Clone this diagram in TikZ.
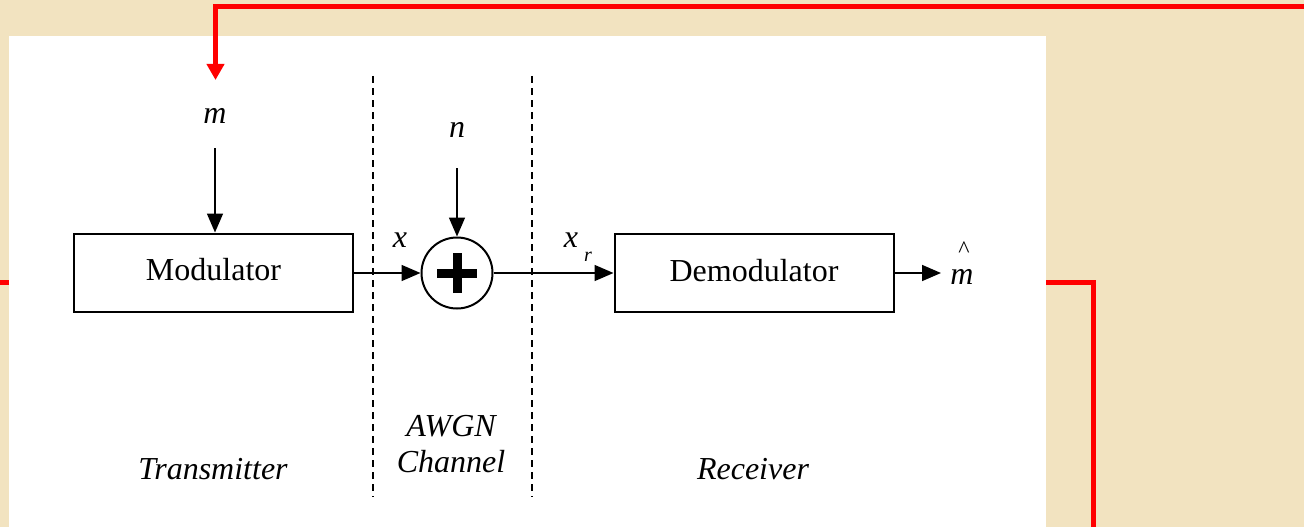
\documentclass[tikz,border=0pt]{standalone}
\usepackage{fontspec}
\setmainfont{Liberation Serif}
\usetikzlibrary{arrows.meta}
\definecolor{parch}{RGB}{242,227,192}
\definecolor{redline}{RGB}{255,0,0}
\tikzset{
  blk/.style={draw=black, line width=2pt, minimum width=279pt, minimum height=78pt, inner sep=0pt, font=\fontsize{32}{36}\selectfont},
  lbl/.style={inner sep=0pt, font=\fontsize{32}{36}\selectfont\itshape},
  arr/.style={line width=1.6pt, -{Triangle[length=19pt,width=16pt]}},
  sep/.style={line width=1.8pt, dash pattern=on 7pt off 5pt},
  redl/.style={draw=redline, line width=5pt},
  redarr/.style={draw=redline, line width=5pt, -{Triangle[length=16pt,width=17pt]}}
}
\begin{document}
\begin{tikzpicture}[x=1pt,y=-1pt]
\useasboundingbox (0,0) rectangle (1304,527);
\fill[parch] (0,0) rectangle (1304,527);
\fill[white] (9,36) rectangle (1046,527);
% red connectors
\coordinate (ra) at (1304,7);
\coordinate (rb) at (215.5,7);
\coordinate (rc) at (215.5,80);
\draw[redarr, line join=miter] (ra) -- (rb) -- (rc);
\coordinate (la) at (0,282.5);
\coordinate (lb) at (9,282.5);
\draw[redl] (la) -- (lb);
\coordinate (qa) at (1046,282.5);
\coordinate (qb) at (1093.5,282.5);
\coordinate (qc) at (1093.5,527);
\draw[redl, line join=miter] (qa) -- (qb) -- (qc);
% dashed separators
\coordinate (s1t) at (373,76);
\coordinate (s1b) at (373,497);
\coordinate (s2t) at (532,76);
\coordinate (s2b) at (532,497);
\draw[sep] (s1t) -- (s1b);
\draw[sep] (s2t) -- (s2b);
% blocks
\node[blk] (mod) at (213.5,272.5) {\raisebox{7pt}{Modulator}};
\node[blk] (dem) at (754,273) {\raisebox{6pt}{Demodulator}};
\node[draw=black, line width=2pt, circle, minimum size=71pt, inner sep=0pt] (sum) at (457,273) {};
\draw[line width=9pt] ([yshift=-20pt]sum.center) -- ([yshift=20pt]sum.center);
\draw[line width=9pt] ([xshift=-20pt]sum.center) -- ([xshift=20pt]sum.center);
% labels
\node[lbl] (m) at (215,116) {m};
\node[lbl] (n) at (457,130) {n};
\node[lbl] (x) at (400,240) {x};
\node[lbl] (xr) at (571,240) {x};
\node[lbl, font=\fontsize{20}{22}\selectfont\itshape] (xrs) at (588,257) {r};
\node[lbl, anchor=base, text height=15pt, text depth=0pt] (mh) at (962,284) {m};
\node[inner sep=0pt, anchor=base, font=\fontsize{24}{26}\selectfont] (hat) at (964,257) {\symbol{94}};
\node[lbl] (tx) at (213,469) {Transmitter};
\node[lbl] (ch1) at (451,426) {AWGN};
\node[lbl] (ch2) at (451,462) {Channel};
\node[lbl] (rx) at (753,469) {Receiver};
% arrows
\coordinate (mtop) at (215,148);
\coordinate (ntop) at (457,168);
\draw[arr] (mtop) -- (mtop |- mod.north);
\draw[arr] (ntop) -- (sum.north);
\draw[arr] (mod.east |- sum.west) -- (sum.west);
\draw[arr] (sum.east) -- (dem.west |- sum.east);
\coordinate (mhw) at (941,273);
\draw[arr] (dem.east) -- (mhw);
\end{tikzpicture}
\end{document}
